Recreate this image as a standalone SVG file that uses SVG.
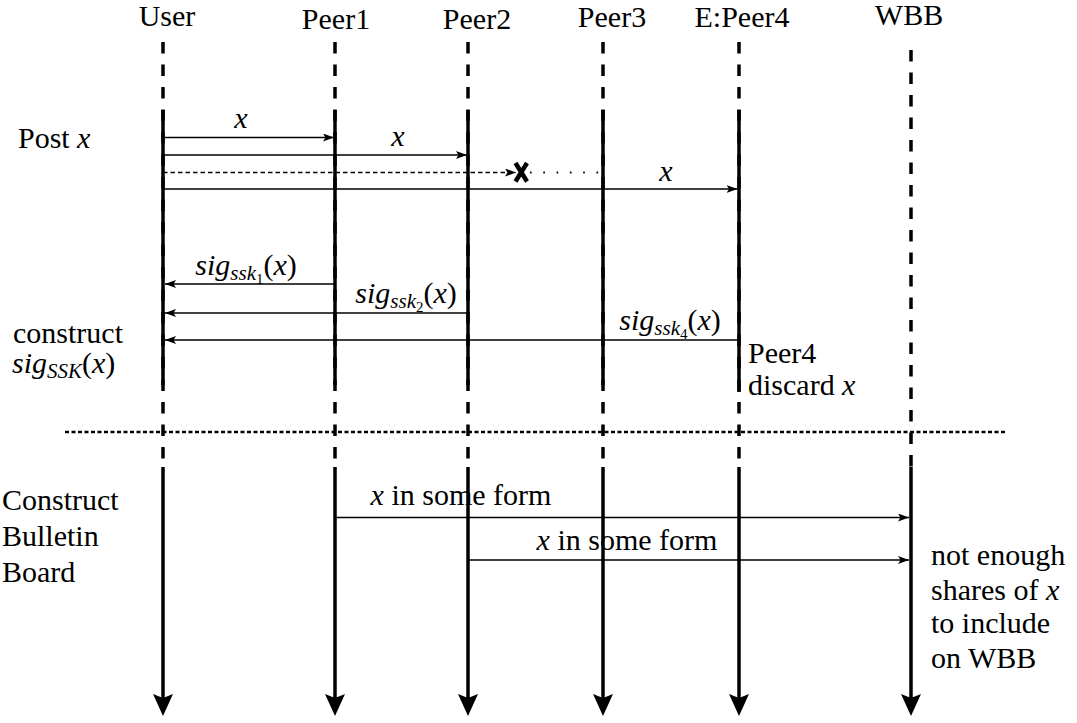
<svg xmlns="http://www.w3.org/2000/svg" width="1077" height="723" viewBox="0 0 1077 723">
<style>
.t{font-family:"Liberation Serif","Times New Roman",serif;font-size:30px;fill:#000}
.it{font-style:italic}
.s21{font-size:21px}
.s15{font-size:15px}
.mid{text-anchor:middle}
.dash{stroke:#000;stroke-width:3.5;stroke-dasharray:11.5 11;fill:none}
.solid{stroke:#000;stroke-width:3.5;fill:none}
.life{stroke:#000;stroke-width:3.5;fill:none;marker-end:url(#big)}
.msg{stroke:#000;stroke-width:1.6;fill:none;marker-end:url(#ah)}
</style>
<defs>
<marker id="ah" viewBox="0 0 11 8" refX="11" refY="4" markerWidth="11" markerHeight="8" markerUnits="userSpaceOnUse" orient="auto">
<path d="M0,0 L11,4 L0,8 L2.5,4 z" fill="#000"/>
</marker>
<marker id="big" viewBox="0 0 22 20" refX="4" refY="10" markerWidth="22" markerHeight="20" markerUnits="userSpaceOnUse" orient="auto">
<path d="M0,0 L22,10 L0,20 L4,10 z" fill="#000"/>
</marker>
</defs>
<rect width="1077" height="723" fill="#fff"/>

<g id="user">
<text class="t mid" x="167" y="26">User</text>
<path class="dash" d="M163,42 V470"/>
<path class="solid" d="M163,110 V385"/>
<path class="life" d="M163,467 V698"/>
</g>
<g id="peer1">
<text class="t mid" x="336" y="29">Peer1</text>
<path class="dash" d="M335,42 V470"/>
<path class="solid" d="M335,110 V385"/>
<path class="life" d="M335,467 V698"/>
</g>
<g id="peer2">
<text class="t mid" x="477" y="29">Peer2</text>
<path class="dash" d="M468,42 V470"/>
<path class="solid" d="M468,110 V385"/>
<path class="life" d="M468,467 V698"/>
</g>
<g id="peer3">
<text class="t mid" x="612" y="27">Peer3</text>
<path class="dash" d="M603,42 V470"/>
<path class="solid" d="M603,110 V385"/>
<path class="life" d="M603,467 V698"/>
</g>
<g id="peer4">
<text class="t mid" x="742" y="27">E:Peer4</text>
<text class="t" x="748" y="363">Peer4</text>
<text class="t" x="748" y="395">discard</text>
<text class="t it" x="842" y="395">x</text>
<path class="dash" d="M739,42 V470"/>
<path class="solid" d="M739,110 V392"/>
<path class="life" d="M739,467 V698"/>
</g>
<g id="wbb">
<text class="t mid" x="909" y="25">WBB</text>
<text class="t" x="931" y="565">not enough</text>
<text class="t" x="931" y="600">shares of</text>
<text class="t it" x="1046" y="600">x</text>
<text class="t" x="931" y="633">to include</text>
<text class="t" x="931" y="668">on WBB</text>
<path class="dash" d="M911,50 V470"/>
<path class="life" d="M911,467 V698"/>
</g>

<g id="phase-labels">
<text class="t" x="18" y="148">Post</text>
<text class="t it" x="77" y="148">x</text>
<text class="t" x="13" y="343">construct</text>
<text class="t it" x="12" y="373">sig</text>
<text class="t it s21" x="47" y="378">SSK</text>
<text class="t" x="82" y="373">(</text>
<text class="t it" x="92" y="373">x</text>
<text class="t" x="105.3" y="373">)</text>
<text class="t" x="2" y="510">Construct</text>
<text class="t" x="2" y="546">Bulletin</text>
<text class="t" x="2" y="582">Board</text>
</g>

<g id="message-labels">
<text class="t it mid" x="241" y="128">x</text>
<text class="t it mid" x="398" y="146">x</text>
<text class="t it mid" x="666" y="181">x</text>
<text class="t it" x="195.3" y="275">sig</text>
<text class="t it s21" x="230.3" y="280">ssk</text>
<text class="t s15" x="256" y="284">1</text>
<text class="t" x="263.5" y="275">(</text>
<text class="t it" x="273.5" y="275">x</text>
<text class="t" x="286.8" y="275">)</text>
<text class="t it" x="355.3" y="303">sig</text>
<text class="t it s21" x="390.3" y="308">ssk</text>
<text class="t s15" x="416" y="312">2</text>
<text class="t" x="423.5" y="303">(</text>
<text class="t it" x="433.5" y="303">x</text>
<text class="t" x="446.8" y="303">)</text>
<text class="t it" x="619.3" y="330">sig</text>
<text class="t it s21" x="654.3" y="335">ssk</text>
<text class="t s15" x="680" y="339">4</text>
<text class="t" x="687.5" y="330">(</text>
<text class="t it" x="697.5" y="330">x</text>
<text class="t" x="710.8" y="330">)</text>
<text class="t it" x="370.6" y="505">x</text>
<text class="t" x="391.4" y="505">in some form</text>
<text class="t it" x="536.6" y="550">x</text>
<text class="t" x="557.4" y="550">in some form</text>
</g>

<g id="separator">
<path d="M65,432 H1005" stroke="#000" stroke-width="2.5" stroke-dasharray="4 2.5" fill="none"/>
</g>

<g id="connectors">
<path class="msg" d="M163,137.5 H334"/>
<path class="msg" d="M163,155 H467"/>
<path class="msg" d="M163,172.5 H516" stroke-dasharray="4.5 3"/>
<path d="M530,172.5 H600" stroke="#000" stroke-width="1.8" stroke-dasharray="1.6 11.7" fill="none"/>
<path d="M515.5,163 L527,181.5 M527,163 L515.5,181.5" stroke="#000" stroke-width="4.5" fill="none"/>
<path class="msg" d="M163,189 H737.5"/>
<path class="msg" d="M335,284 H165"/>
<path class="msg" d="M468,313 H165"/>
<path class="msg" d="M739,340 H165"/>
<path class="msg" d="M335,517.5 H909"/>
<path class="msg" d="M468,560 H909"/>
</g>
</svg>
